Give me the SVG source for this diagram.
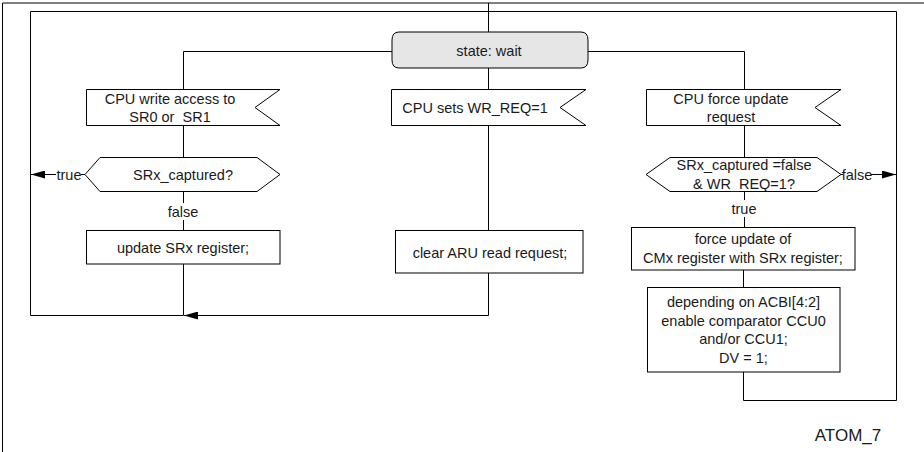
<svg xmlns="http://www.w3.org/2000/svg" width="924" height="452" viewBox="0 0 924 452">
<style>
.ln{fill:none;stroke:#000;stroke-width:1}
.nd{fill:#fff;stroke:#000;stroke-width:1}
.st{fill:#e6e6e6;stroke:#000;stroke-width:1}
text{font-family:"Liberation Sans",Arial,sans-serif;font-size:14.5px;fill:#1a1a1a;text-anchor:middle}
.big{font-size:17px}
</style>
<defs>
<marker id="ah" viewBox="0 0 14 8" refX="14" refY="4" markerWidth="14" markerHeight="8" markerUnits="userSpaceOnUse" orient="auto">
<path d="M0,0 L14,4 L0,8 Z" fill="#000"/>
</marker>
</defs>
<g id="frame">
<path class="ln" d="M2.5,452 V3 H924" stroke-width="1.5"/>
</g>
<g id="connectors">
<path class="ln" d="M488.5,3 V32"/>
<path class="ln" d="M30.5,315.5 V11.5 H896.5 V400.5 H743.5 V372"/>
<path class="ln" d="M392,51.5 H183.5 V89"/>
<path class="ln" d="M588,51.5 H744.5 V89"/>
<path class="ln" d="M488.5,68 V89"/>
<path class="ln" d="M183.5,125 V157"/>
<path class="ln" d="M183.5,191 V203 M183.5,220 V230"/>
<path class="ln" d="M183.5,264 V315.5"/>
<path class="ln" d="M488.5,125 V230"/>
<path class="ln" d="M488.5,273 V315.5 H184" marker-end="url(#ah)"/>
<path class="ln" d="M183.5,315.5 H30.5"/>
<path class="ln" d="M85,174.5 H81"/>
<path class="ln" d="M56,174.5 H31" marker-end="url(#ah)"/>
<path class="ln" d="M744.5,125 V157"/>
<path class="ln" d="M744.5,191 V200 M744.5,217 V227"/>
<path class="ln" d="M743.5,270 V287"/>
<path class="ln" d="M841,174.5 H843"/>
<path class="ln" d="M871,174.5 H896" marker-end="url(#ah)"/>
</g>
<g id="state">
<path class="st" d="M399,32 H581 Q588,32 588,40 V60 Q588,68 581,68 H399 Q392,68 392,60 V40 Q392,32 399,32 Z"/>
<text x="489" y="56">state: wait</text>
</g>
<g id="sig1">
<path class="nd" d="M86.5,89.5 H280 L255,107.5 L280,125.5 H86.5 Z"/>
<text x="170" y="103.5">CPU write access to</text>
<text x="170" y="122">SR0 or&#160; SR1</text>
</g>
<g id="sig2">
<path class="nd" d="M391.5,89.5 H586 L560,107.5 L586,125.5 H391.5 Z"/>
<text x="475" y="113">CPU sets WR_REQ=1</text>
</g>
<g id="sig3">
<path class="nd" d="M646.5,89.5 H841 L815,107.5 L841,125.5 H646.5 Z"/>
<text x="731" y="103.5">CPU force update</text>
<text x="731" y="122">request</text>
</g>
<g id="dec1">
<path class="nd" d="M85,174.5 L100,157.5 H257 L280,174.5 L257,191.5 H100 Z"/>
<text x="183" y="180">SRx_captured?</text>
<text x="69" y="179.5">true</text>
<text x="183" y="216.5">false</text>
</g>
<g id="dec2">
<path class="nd" d="M646,174.5 L670,157.5 H817 L841,174.5 L817,191.5 H670 Z"/>
<text x="744" y="170">SRx_captured =false</text>
<text x="744" y="188.5">&amp; WR_REQ=1?</text>
<text x="857" y="179.5">false</text>
<text x="744" y="214">true</text>
</g>
<g id="upd">
<rect class="nd" x="86.5" y="230.5" width="193.5" height="33.5"/>
<text x="183" y="252.5">update SRx register;</text>
</g>
<g id="clr">
<rect class="nd" x="395.5" y="230.5" width="187.5" height="42.5"/>
<text x="490" y="258">clear ARU read request;</text>
</g>
<g id="force">
<rect class="nd" x="631.5" y="227.5" width="223.5" height="42.5"/>
<text x="743" y="243.5">force update of</text>
<text x="743" y="262.5">CMx register with SRx register;</text>
</g>
<g id="enable">
<rect class="nd" x="647.5" y="287.5" width="192.5" height="84.5"/>
<text x="743.5" y="307">depending on ACBI[4:2]</text>
<text x="743.5" y="325.5">enable comparator CCU0</text>
<text x="743.5" y="344">and/or CCU1;</text>
<text x="743.5" y="363">DV = 1;</text>
</g>
<text class="big" x="848" y="440.5">ATOM_7</text>
</svg>
